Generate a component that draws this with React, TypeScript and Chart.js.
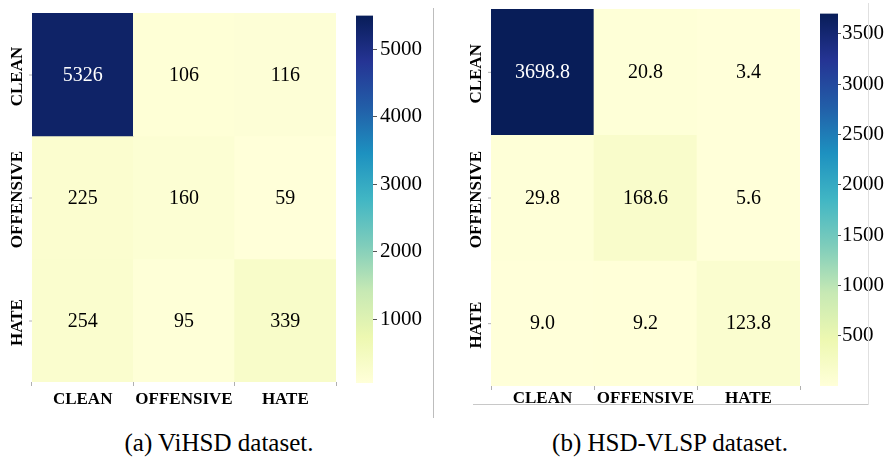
import React, { useEffect, useRef } from "react";
import { Chart, registerables } from "chart.js";

Chart.register(...registerables);

// ---------- data ----------
const CLASSES = ["CLEAN", "OFFENSIVE", "HATE"];
const VIHSD_VALUES = [
  [5326, 106, 116],
  [225, 160, 59],
  [254, 95, 339],
];
const VLSP_VALUES = [
  [3698.8, 20.8, 3.4],
  [29.8, 168.6, 5.6],
  [9.0, 9.2, 123.8],
];
const VIHSD_CBAR_RANGE = [59, 5500];
const VLSP_CBAR_RANGE = [3.4, 3698.8];
const VIHSD_CBAR_TICKS = [1000, 2000, 3000, 4000, 5000];
const VLSP_CBAR_TICKS = [500, 1000, 1500, 2000, 2500, 3000, 3500];
const CAPTION_A = "(a) ViHSD dataset.";
const CAPTION_B = "(b) HSD-VLSP dataset.";

// YlGnBu colormap anchors
const YLGNBU = ["#ffffd9", "#edf8b1", "#c7e9b4", "#7fcdbb", "#41b6c4", "#1d91c0", "#225ea8", "#253494", "#081d58"];

function hexToRgb(h: string) {
  return [parseInt(h.slice(1, 3), 16), parseInt(h.slice(3, 5), 16), parseInt(h.slice(5, 7), 16)];
}
function cmap(t: number) {
  t = Math.max(0, Math.min(1, t));
  const p = t * (YLGNBU.length - 1);
  const i = Math.min(YLGNBU.length - 2, Math.floor(p));
  const f = p - i;
  const a = hexToRgb(YLGNBU[i]);
  const b = hexToRgb(YLGNBU[i + 1]);
  const c = a.map((v, k) => Math.round(v + (b[k] - v) * f));
  return { css: `rgb(${c[0]},${c[1]},${c[2]})`, lum: (0.299 * c[0] + 0.587 * c[1] + 0.114 * c[2]) / 255 };
}

const SERIF = "\"Liberation Serif\", \"Times New Roman\", Times, serif";

function heatmapConfig(values: number[][], range: number[], decimals: number, pad: any, xAxisH: number, xPad: number) {
  const [vmin, vmax] = range;
  const norm = (v: number) => (v - vmin) / (vmax - vmin);
  const datasets = values.map((row, r) => ({
    label: CLASSES[r],
    data: row.map(() => [r, r + 1]),
    backgroundColor: row.map((v) => cmap(norm(v)).css),
    borderWidth: 0,
    grouped: false,
    barPercentage: 1,
    categoryPercentage: 1,
  }));
  const annotate = {
    id: "annotate",
    afterDatasetsDraw(chart: any) {
      const ctx = chart.ctx;
      ctx.save();
      ctx.textAlign = "center";
      ctx.textBaseline = "middle";
      ctx.font = `20px ${SERIF}`;
      values.forEach((row, r) => {
        const meta = chart.getDatasetMeta(r);
        row.forEach((v, c) => {
          const el = meta.data[c];
          const pt = el.getCenterPoint();
          ctx.fillStyle = cmap(norm(v)).lum < 0.5 ? "#ffffff" : "#000000";
          ctx.fillText(v.toFixed(decimals), pt.x, pt.y + 1);
        });
      });
      // y labels (rotated) and tick marks
      const ys = chart.scales.y;
      const left = chart.chartArea.left;
      CLASSES.forEach((lab, r) => {
        const y = ys.getPixelForValue(r + 0.5);
        ctx.strokeStyle = "#b0b0b0";
        ctx.lineWidth = 1;
        ctx.beginPath();
        ctx.moveTo(left - 3, y + 0.5);
        ctx.lineTo(left, y + 0.5);
        ctx.stroke();
        ctx.save();
        ctx.translate(left - 14, y + 2);
        ctx.rotate(-Math.PI / 2);
        ctx.fillStyle = "#000";
        ctx.font = `bold 17px ${SERIF}`;
        ctx.textAlign = "center";
        ctx.textBaseline = "middle";
        ctx.fillText(lab, 0, 0);
        ctx.restore();
      });
      ctx.restore();
    },
  };
  return {
    type: "bar",
    data: { labels: CLASSES, datasets },
    options: {
      responsive: false,
      animation: false,
      layout: { padding: pad },
      plugins: { legend: { display: false }, tooltip: { enabled: false } },
      scales: {
        x: {
          type: "category",
          grid: { display: true, drawOnChartArea: false, drawTicks: true, tickLength: 4, color: "#b0b0b0" },
          border: { display: false },
          ticks: { color: "#000", font: { family: SERIF, size: 17, weight: "bold" }, padding: xPad, maxRotation: 0 },
          afterFit: (s: any) => {
            s.height = xAxisH;
          },
        },
        y: { type: "linear", display: false, min: 0, max: 3, reverse: true },
      },
    },
    plugins: [annotate],
  };
}

function colorbarConfig(range: number[], ticks: number[], pad: any, axisW: number, tickLen: number, tickPad: number) {
  const [vmin, vmax] = range;
  return {
    type: "bar",
    data: {
      labels: [""],
      datasets: [
        {
          data: [[vmin, vmax]],
          borderWidth: 0,
          barPercentage: 1,
          categoryPercentage: 1,
          backgroundColor: (ctx: any) => {
            const ca = ctx.chart.chartArea;
            if (!ca) return YLGNBU[0];
            const g = ctx.chart.ctx.createLinearGradient(0, ca.bottom, 0, ca.top);
            YLGNBU.forEach((c, i) => g.addColorStop(i / (YLGNBU.length - 1), c));
            return g;
          },
        },
      ],
    },
    options: {
      responsive: false,
      animation: false,
      layout: { padding: pad },
      plugins: { legend: { display: false }, tooltip: { enabled: false } },
      scales: {
        x: { display: false },
        y: {
          type: "linear",
          position: "right",
          min: vmin,
          max: vmax,
          afterBuildTicks: (s: any) => {
            s.ticks = ticks.map((v) => ({ value: v }));
          },
          grid: { display: true, drawOnChartArea: false, drawTicks: true, tickLength: tickLen, color: "#555" },
          border: { display: false },
          ticks: { color: "#000", font: { family: SERIF, size: 21 }, padding: tickPad, callback: (v: any) => String(v) },
          afterFit: (s: any) => {
            s.width = axisW;
          },
        },
      },
    },
  };
}

function ChartCanvas({ config, left, top, width, height }: any) {
  const ref = useRef<HTMLCanvasElement>(null);
  useEffect(() => {
    if (!ref.current) return;
    const chart = new Chart(ref.current, config);
    return () => chart.destroy();
  }, []);
  return (
    <canvas
      ref={ref}
      width={width}
      height={height}
      style={{ position: "absolute", left, top, width, height }}
    />
  );
}

export default function App() {
  return (
    <div style={{ position: "absolute", left: 0, top: 0, width: 887, height: 460, background: "#fff", overflow: "hidden" }}>
      <ChartCanvas
        config={heatmapConfig(VIHSD_VALUES, VIHSD_CBAR_RANGE, 0, { left: 32, top: 13, right: 4 }, 33, 3)}
        left={0}
        top={0}
        width={340}
        height={415}
      />
      <ChartCanvas
        config={colorbarConfig(VIHSD_CBAR_RANGE, VIHSD_CBAR_TICKS, { left: 6, top: 13, bottom: 17 }, 57, 4, 3)}
        left={350}
        top={0}
        width={80}
        height={400}
      />
      <ChartCanvas
        config={heatmapConfig(VLSP_VALUES, VLSP_CBAR_RANGE, 1, { left: 51, top: 9, right: 5 }, 18, -2)}
        left={440}
        top={0}
        width={365}
        height={404}
      />
      <ChartCanvas
        config={colorbarConfig(VLSP_CBAR_RANGE, VLSP_CBAR_TICKS, { left: 5, top: 9, bottom: 14 }, 49, 3, 1)}
        left={815}
        top={0}
        width={72}
        height={400}
      />
      {/* separators / frame */}
      <div style={{ position: "absolute", left: 433, top: 8, width: 1, height: 410, background: "#bdbdbd" }} />
      <div style={{ position: "absolute", left: 473, top: 404, width: 396, height: 1, background: "#c8c8c8" }} />
      <div style={{ position: "absolute", left: 868, top: 3, width: 1, height: 402, background: "#e0e0e0" }} />
      {/* captions */}
      <div style={{ position: "absolute", left: 0, width: 438, top: 429, textAlign: "center", fontFamily: SERIF, fontSize: 25, lineHeight: "28px", color: "#000" }}>
        {CAPTION_A}
      </div>
      <div style={{ position: "absolute", left: 452, width: 436, top: 429, textAlign: "center", fontFamily: SERIF, fontSize: 25, lineHeight: "28px", color: "#000" }}>
        {CAPTION_B}
      </div>
    </div>
  );
}
